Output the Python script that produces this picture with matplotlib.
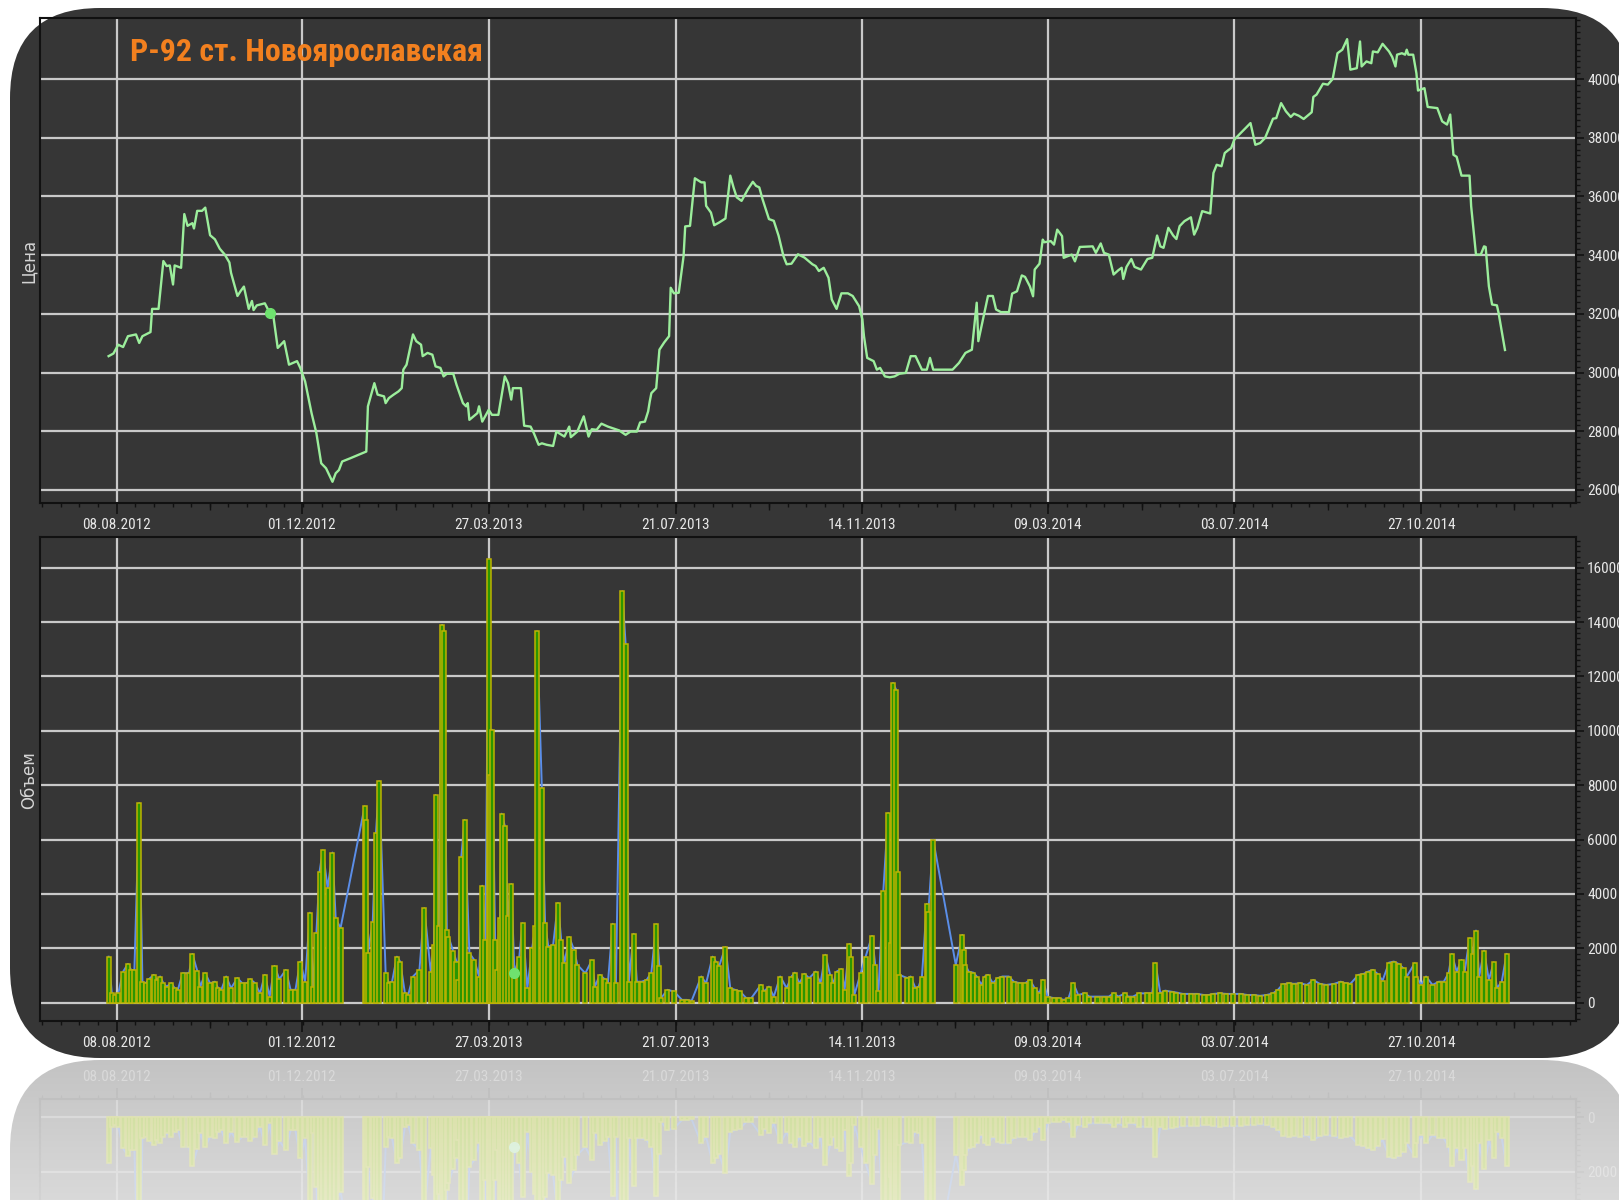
import numpy as np
import matplotlib
matplotlib.use('Agg')
import matplotlib.pyplot as plt
import matplotlib.dates as mdates
from matplotlib import font_manager
from matplotlib.patches import FancyBboxPatch
from matplotlib.ticker import FixedLocator, FuncFormatter

# ---------------- data ----------------
title = 'Р-92 ст. Новоярославская'
price_label = 'Цена'
volume_label = 'Объем'
start_date = '2012-08-08'
tick_dates = ['2012-08-08', '2012-12-01', '2013-03-27', '2013-07-21',
              '2013-11-14', '2014-03-09', '2014-07-03', '2014-10-27']
price_ticks = list(range(26000, 40001, 2000))
volume_ticks = list(range(0, 16001, 2000))

# days counted from start_date
price_day = [
    -5, -2, 1, 4, 7, 12, 14, 16, 21, 22,
    26, 29, 31, 33, 35, 36, 40, 42, 44, 47,
    48, 50, 53, 55, 58, 61, 64, 67, 70, 71,
    75, 77, 79, 82, 84, 85, 87, 92, 95, 97,
    100, 104, 107, 112, 114, 117, 121, 124, 127, 130,
    134, 136, 138, 140, 145, 155, 156, 160, 162, 166,
    167, 169, 172, 175, 177, 178, 180, 184, 186, 189,
    190, 193, 196, 198, 201, 203, 205, 209, 211, 215,
    217, 218, 219, 224, 225, 227, 231, 233, 237, 241,
    243, 245, 246, 251, 253, 257, 259, 262, 264, 267,
    271, 273, 278, 281, 282, 286, 290, 293, 295, 298,
    301, 305, 312, 316, 319, 323, 325, 328, 330, 331,
    332, 335, 337, 340, 343, 344, 346, 349, 352, 353,
    356, 359, 363, 365, 366, 369, 371, 374, 378, 381,
    383, 385, 388, 392, 395, 397, 399, 401, 405, 408,
    411, 414, 416, 419, 423, 427, 432, 434, 436, 439,
    442, 444, 447, 450, 454, 457, 461, 463, 464, 466,
    470, 472, 474, 477, 480, 483, 486, 490, 493, 496,
    500, 503, 505, 507, 519, 523, 527, 531, 534, 535,
    537, 541, 544, 546, 549, 554, 556, 559, 562, 564,
    567, 569, 570, 573, 575, 576, 580, 582, 584, 587,
    588, 593, 595, 598, 606, 608, 611, 613, 616, 619,
    622, 624, 625, 627, 630, 632, 636, 640, 643, 646,
    648, 650, 653, 656, 658, 660, 663, 667, 669, 671,
    674, 679, 681, 683, 686, 688, 690, 692, 694, 697,
    701, 704, 707, 710, 713, 718, 720, 723, 726, 729,
    731, 734, 737, 742, 743, 745, 749, 752, 755, 758,
    761, 764, 766, 770, 772, 773, 776, 779, 780, 783,
    786, 790, 792, 794, 795, 798, 800, 801, 802, 805,
    807, 808, 812, 814, 820, 823, 826, 828, 830, 832,
    835, 840, 841, 844, 847, 849, 850, 852, 854, 857,
    858, 862,
]
price_val = [
    30560, 30650, 30950, 30870, 31240, 31300, 31010, 31240, 31380, 32170,
    32170, 33800, 33630, 33650, 33000, 33650, 33570, 35400, 35000, 35090,
    34910, 35510, 35510, 35620, 34680, 34540, 34220, 34030, 33750, 33400,
    32610, 32780, 32930, 32170, 32440, 32130, 32290, 32360, 32040, 32040,
    30840, 31070, 30270, 30390, 30160, 29700, 28620, 27940, 26910, 26740,
    26280, 26570, 26680, 26970, 27080, 27310, 28850, 29640, 29250, 29190,
    28960, 29130, 29250, 29360, 29470, 30100, 30270, 31300, 31070, 30950,
    30560, 30670, 30610, 30210, 30160, 29870, 29960, 29960, 29590, 28960,
    28850, 28960, 28390, 28620, 28850, 28330, 28730, 28560, 28560, 29870,
    29640, 29080, 29470, 29470, 28190, 28160, 27940, 27540, 27590, 27540,
    27500, 27990, 27820, 28160, 27800, 27990, 28510, 27820, 28070, 28050,
    28260, 28160, 28030, 27880, 27990, 27990, 28300, 28330, 28680, 29020,
    29300, 29470, 30780, 31030, 31240, 32890, 32700, 32720, 33970, 34980,
    35000, 36620, 36480, 36480, 35680, 35450, 35020, 35110, 35250, 36710,
    36310, 35970, 35850, 36250, 36500, 36360, 36310, 35910, 35230, 35170,
    34660, 33970, 33690, 33710, 34030, 33920, 33690, 33630, 33460, 33570,
    33230, 32490, 32170, 32700, 32700, 32610, 32260, 31810, 31240, 30500,
    30390, 30100, 30160, 29870, 29840, 29870, 29960, 29990, 30560, 30560,
    30100, 30100, 30500, 30100, 30100, 30330, 30670, 30780, 32380, 31070,
    31580, 32610, 32610, 32150, 32060, 32060, 32690, 32770, 33310, 33260,
    32940, 32600, 33510, 33710, 34530, 34440, 34480, 34360, 34870, 34650,
    33910, 34020, 33790, 34280, 34300, 34080, 34400, 34080, 34020, 33340,
    33490, 33570, 33190, 33600, 33870, 33600, 33510, 33870, 33910, 34670,
    34300, 34250, 34930, 34670, 34550, 34990, 35160, 35290, 34700, 34930,
    35500, 35420, 36800, 37080, 37030, 37480, 37570, 37650, 37940, 38110,
    38330, 38500, 37760, 37820, 37990, 38650, 38670, 39180, 38900, 38710,
    38820, 38750, 38640, 38870, 39390, 39470, 39840, 39810, 40000, 40880,
    41000, 41360, 40320, 40370, 41280, 40430, 40600, 40540, 40940, 40910,
    41200, 40940, 40750, 40430, 40830, 40880, 40830, 41000, 40830, 40830,
    40200, 39610, 39690, 39050, 39010, 38560, 38450, 38790, 37420, 37350,
    36710, 36710, 35670, 34020, 34020, 34300, 34280, 32940, 32320, 32290,
    32040, 30770,
]
price_mark_day = 95

vol_day = [
    -5, -3, -1, 1, 4, 7, 9, 11, 14, 16,
    18, 20, 23, 25, 27, 29, 31, 34, 36, 38,
    41, 45, 47, 50, 52, 55, 58, 61, 63, 65,
    68, 71, 75, 78, 81, 83, 86, 89, 92, 95,
    98, 101, 105, 108, 111, 114, 117, 120, 122, 124,
    126, 128, 131, 134, 136, 139, 154, 155, 156, 159,
    161, 163, 167, 169, 171, 174, 176, 179, 181, 184,
    188, 191, 195, 197, 198, 200, 202, 203, 205, 206,
    209, 211, 212, 214, 216, 219, 222, 225, 227, 229,
    231, 232, 233, 235, 236, 238, 239, 241, 243, 245,
    247, 250, 252, 255, 258, 260, 261, 264, 266, 268,
    271, 274, 276, 278, 281, 284, 286,
    291, 295, 297, 300, 303, 305, 308, 310, 314, 316,
    318, 321, 323, 326, 329, 332, 335, 337, 338, 342,
    346, 351, 354, 357, 363, 366, 370, 372, 374, 378,
    381, 384, 387, 391, 394, 400, 402, 405, 408, 412,
    416, 419, 421, 424, 427, 430, 434, 437, 440, 443,
    445, 447, 450, 452, 455, 456, 458, 462, 465, 469,
    471, 473, 476, 479, 481, 482, 484, 485, 486, 491,
    493, 496, 498, 500, 503, 504, 507, 521, 525, 526,
    527, 529, 532, 534, 537, 539, 541, 544, 547, 550,
    554, 557, 561, 564, 567, 570, 573,
    575, 578, 582, 585, 588, 591, 594, 597, 601, 604,
    609, 613, 616, 619, 622, 626, 628, 631, 635, 640,
    643, 645, 648, 651, 655, 658, 662, 667, 671, 675,
    678, 681, 685, 689, 693, 698, 702, 706, 710, 714,
    718, 721, 724, 728, 731, 735, 739, 743, 747, 751,
    756, 760, 763, 766, 771, 774, 777, 780, 783, 786,
    790, 793, 796, 799, 801, 806, 807, 810, 813, 817,
    821, 824, 827, 829, 832, 835, 837, 840, 842, 844,
    846, 849, 852, 855, 857, 860, 863,
]
vol_val = [
    1690, 340, 280, 340, 1140, 1420, 1200, 1200, 7340, 770,
    710, 860, 1020, 830, 960, 710, 590, 710, 530, 470,
    1080, 1080, 1790, 1180, 590, 1080, 710, 770, 530, 470,
    960, 530, 900, 710, 710, 860, 710, 340, 1020, 220,
    1350, 860, 1200, 470, 470, 1510, 770, 3310, 590, 2550,
    4820, 5600, 4210, 5520, 3100, 2740, 7220, 6720, 1820, 2980,
    6230, 8140, 1100, 710, 770, 1690, 1510, 340, 280, 960,
    1200, 3470, 1140, 2120, 7640, 2800, 13900, 13690, 2680, 2430,
    1880, 1510, 830, 5370, 6720, 1820, 1570, 960, 4300, 2310,
    16320, 8380, 10040, 2310, 1200, 3100, 6950, 6500, 3170, 4360,
    1080, 1690, 2920, 530, 2000, 2800, 13660, 7890, 2920, 2060,
    2120, 3660, 2310, 1450, 2410, 1940, 1390,
    1080, 1550, 590, 1020, 860, 710, 2900, 710, 15130, 13200,
    770, 2530, 770, 770, 830, 1100, 2880, 1330, 160, 470,
    410, 100, 100, 70, 960, 710, 1690, 1510, 1330, 2040,
    530, 470, 410, 160, 160, 650, 410, 590, 220, 960,
    530, 960, 1100, 710, 1060, 900, 1140, 710, 1760, 1020,
    710, 1140, 1230, 470, 2160, 1690, 280, 1080, 1690, 2450,
    1390, 410, 4090, 6970, 2180, 11760, 11510, 4820, 1020, 900,
    960, 530, 590, 960, 3630, 3350, 5990, 1390, 2490, 1940,
    1390, 1140, 1100, 960, 650, 960, 1020, 710, 900, 960,
    960, 770, 710, 710, 830, 530, 340,
    830, 220, 160, 160, 100, 160, 710, 280, 340, 220,
    220, 220, 220, 340, 220, 340, 220, 220, 340, 340,
    340, 1450, 340, 440, 400, 370, 320, 320, 320, 280,
    280, 320, 340, 320, 320, 320, 280, 280, 250, 280,
    340, 470, 670, 710, 690, 710, 650, 830, 690, 650,
    690, 770, 710, 690, 1020, 1050, 1140, 1200, 1050, 810,
    1470, 1510, 1420, 1260, 960, 1450, 960, 650, 960, 650,
    770, 770, 1080, 1790, 1140, 1570, 1140, 2360, 1790, 2650,
    960, 1910, 830, 1480, 530, 770, 1790,
]
vol_mark_day = 247

# ---------------- style ----------------
W, H, DPI = 1619, 1200, 100
PANEL = '#363636'
GRID = '#c9c9c9'
TICK = '#111111'
TEXT = '#e8e8e8'
PRICE = '#9cee9c'
MARK = '#6fe26f'
BAR_FACE = '#2c9600'
BAR_EDGE = '#bdb300'
BLUE = '#5b8ee8'
ORANGE = '#f2801f'
REF_PANEL = '#c0c0c0'


def pick_font(names):
    for name in names:
        try:
            font_manager.findfont(font_manager.FontProperties(family=name),
                                  fallback_to_default=False)
            return name
        except ValueError:
            pass
    return 'DejaVu Sans'


NARROW = pick_font(['Liberation Sans Narrow', 'Roboto Condensed',
                    'Open Sans Condensed', 'Liberation Sans'])
plt.rcParams['font.family'] = [NARROW, 'DejaVu Sans']

base = mdates.date2num(np.datetime64(start_date))
px = base + np.array(price_day, dtype=float)
vx = base + np.array(vol_day, dtype=float)
major_x = [mdates.date2num(np.datetime64(d)) for d in tick_dates]
step = (major_x[-1] - major_x[0]) / (len(major_x) - 1)
minor_x = list(major_x[0] + step / 10 * np.arange(-5, 10 * len(major_x) + 6))
mid_x = list(major_x[0] + step * (np.arange(-1, len(major_x)) + 0.5))
xlim = (base - 47.6, base + 906.1)


def box(x0, y0, x1, y1):
    return [x0 / W, 1 - y1 / H, (x1 - x0) / W, (y1 - y0) / H]


fig = plt.figure(figsize=(W / DPI, H / DPI), dpi=DPI, facecolor='white')

# rounded dark panel and its reflection
r = 90
fig.add_artist(FancyBboxPatch((10 / W, 1 - 2110 / H), 1622 / W, 1050 / H,
                              boxstyle=f'round,pad=0,rounding_size={r / W}',
                              mutation_aspect=W / H, transform=fig.transFigure,
                              facecolor=REF_PANEL, edgecolor='none', zorder=-6))
fig.add_artist(FancyBboxPatch((10 / W, 1 - 1058 / H), 1622 / W, 1050 / H,
                              boxstyle=f'round,pad=0,rounding_size={r / W}',
                              mutation_aspect=W / H, transform=fig.transFigure,
                              facecolor=PANEL, edgecolor='none', zorder=-5))


def style(ax, ylim, yticks, grid=GRID, tick=TICK, text=TEXT, top=False):
    ax.set_facecolor('none')
    ax.set_xlim(*xlim)
    ax.set_ylim(*ylim)
    ax.set_axisbelow(True)
    ax.xaxis.set_major_locator(FixedLocator(major_x))
    ax.xaxis.set_minor_locator(FixedLocator(minor_x))
    ax.xaxis.set_major_formatter(mdates.DateFormatter('%d.%m.%Y'))
    ax.yaxis.set_major_locator(FixedLocator(yticks))
    lo, hi = sorted(ylim)
    ax.yaxis.set_minor_locator(FixedLocator(np.arange(np.ceil(lo / 200) * 200, hi, 200)))
    ax.yaxis.set_major_formatter(FuncFormatter(lambda v, p: f'{v:.0f}'))
    ax.grid(True, which='major', color=grid, lw=1.6)
    for s in ax.spines.values():
        s.set_color(tick)
        s.set_linewidth(1.5)
    ax.tick_params(axis='x', which='major', length=8, width=1.2, color=tick,
                   labelcolor=text, labelsize=11, pad=3,
                   bottom=not top, top=top, labelbottom=not top, labeltop=top)
    ax.tick_params(axis='x', which='minor', length=3, width=1, color=tick,
                   bottom=not top, top=top)
    ax.tick_params(axis='y', which='both', left=False, labelleft=False,
                   right=True, labelright=True, color=tick)
    ax.tick_params(axis='y', which='major', length=6, width=1.2,
                   labelcolor=text, labelsize=11, pad=2)
    ax.tick_params(axis='y', which='minor', length=3, width=1)
    sec = ax.secondary_xaxis('top' if top else 'bottom')
    sec.set_xticks(mid_x)
    sec.tick_params(length=5, width=1, color=tick, labelbottom=False, labeltop=False)
    for s in sec.spines.values():
        s.set_visible(False)


# price
ax1 = fig.add_axes(box(40, 18, 1576, 503))
style(ax1, (25557, 42080), price_ticks)
ax1.plot(px, price_val, color=PRICE, lw=1.7, zorder=3)
i = price_day.index(price_mark_day)
ax1.plot(px[i], price_val[i], 'o', ms=7, color=MARK, zorder=4)


def draw_volume(ax, face, edge, line, mark):
    ax.plot(vx, vol_val, color=line, lw=1.4, zorder=2)
    ax.bar(vx, vol_val, width=2.5, color=face, edgecolor=edge, lw=1.1, zorder=3)
    j = vol_day.index(vol_mark_day)
    ax.plot(vx[j], vol_val[j], 'o', ms=7, color=mark, zorder=4)


# volume
ax2 = fig.add_axes(box(40, 537, 1576, 1021))
style(ax2, (-677, 17130), volume_ticks)
draw_volume(ax2, BAR_FACE, BAR_EDGE, BLUE, MARK)

# mirrored volume (reflection)
axr = fig.add_axes(box(40, 1099, 1576, 1583))
style(axr, (17130, -677), volume_ticks, grid='#d2d2d2', tick='#b6b6b6',
      text='#d6d6d6', top=True)
draw_volume(axr, '#c8d98e', '#d8dc9e', '#b8c6e0', '#d2ecd2')

# fade of reflection towards the bottom
gax = fig.add_axes([0, 0, 1, 142 / H])
grad = np.ones((100, 2, 4))
grad[:, :, 3] = np.linspace(0.05, 0.4, 100)[:, None]
gax.imshow(grad, aspect='auto', extent=[0, 1, 0, 1], origin='upper')
gax.set_axis_off()
gax.set_zorder(10)

# texts
fig.text(29 / W, 1 - 261 / H, price_label, rotation=90, ha='center', va='center',
         color='#d4d4d4', fontsize=12, family=['DejaVu Sans'])
fig.text(29 / W, 1 - 780 / H, volume_label, rotation=90, ha='center', va='center',
         color='#d4d4d4', fontsize=12, family=['DejaVu Sans'])
t = fig.text(130 / W, 1 - 61 / H, title, color=ORANGE, fontsize=26,
             fontweight='bold', ha='left', va='baseline')
fig.canvas.draw()
t.set_fontsize(26 * 353 / t.get_window_extent().width)

fig.savefig('out.png', dpi=DPI, facecolor='white')
